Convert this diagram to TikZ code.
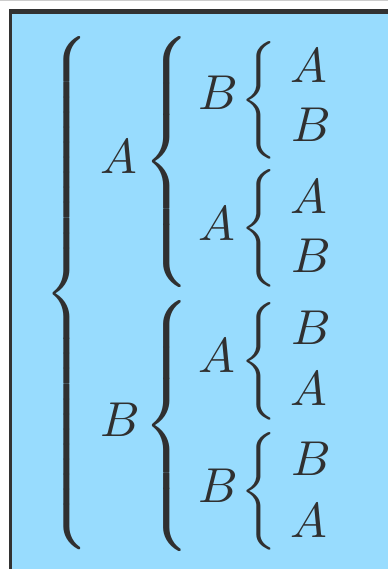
\RequirePackage{fix-cm}
\documentclass[tikz,border=0pt]{standalone}
\usepackage{xcolor}
\DeclareFontShape{OML}{cmm}{m}{it}{<->cmmi10}{\skewchar\font=127}
\DeclareFontShape{OMX}{cmex}{m}{n}{<->cmex10}{}
\definecolor{bgblue}{RGB}{152,220,254}
\definecolor{ink}{RGB}{48,48,48}
\definecolor{framecol}{RGB}{50,50,50}
\newcommand{\lbr}[1]{\ensuremath{\delimiterfactor=1000 \delimitershortfall=0pt\left\{\vcenter{\hbox{\vrule height #1 depth 0pt width 0pt}}\right.}}
\begin{document}
\begin{tikzpicture}[x=1pt,y=-1pt,
  letter/.style={inner sep=0pt, anchor=base west, text=ink, font=\fontsize{49}{50}\selectfont},
  bracenode/.style={inner sep=0pt, anchor=west, text=ink},
  outerbrace/.style={bracenode, font=\fontsize{50.3}{51}\selectfont},
  midbrace/.style={bracenode, font=\fontsize{52.3}{53}\selectfont},
  innerbrace/.style={bracenode, font=\fontsize{49}{50}\selectfont}]
\useasboundingbox (0,0) rectangle (388,569);
\fill[white] (0,0) rectangle (388,569);
\fill[bgblue] (10,10) rectangle (388,569);
\draw[gray!40, line width=1.5pt] (0,0.75) -- (388,0.75);
\fill[framecol] (9,9) rectangle (388,14);
\fill[framecol] (9,9) rectangle (12,569);
% outer level
\node[outerbrace] (b0) at (44,293.5) {\lbr{10em}};
\node[letter] (l1) at (100,174) {$A$};
\node[letter] (l2) at (100,436) {$B$};
% middle level
\node[midbrace] (b1) at (143,162) {\lbr{4.5em}};
\node[midbrace] (b2) at (143,426) {\lbr{4.5em}};
\node[letter] (m1) at (198,110) {$B$};
\node[letter] (m2) at (198,240) {$A$};
\node[letter] (m3) at (198,372) {$A$};
\node[letter] (m4) at (198,502) {$B$};
% inner level
\node[innerbrace] (c1) at (240,100) {\lbr{2.3em}};
\node[innerbrace] (c2) at (240,228) {\lbr{2.3em}};
\node[innerbrace] (c3) at (240,361) {\lbr{2.3em}};
\node[innerbrace] (c4) at (240,491) {\lbr{2.3em}};
\node[letter] (n1) at (290,83) {$A$};
\node[letter] (n2) at (291,142) {$B$};
\node[letter] (n3) at (290,213) {$A$};
\node[letter] (n4) at (291,272) {$B$};
\node[letter] (n5) at (291,344) {$B$};
\node[letter] (n6) at (290,405) {$A$};
\node[letter] (n7) at (291,475) {$B$};
\node[letter] (n8) at (290,537) {$A$};
\end{tikzpicture}
\end{document}
